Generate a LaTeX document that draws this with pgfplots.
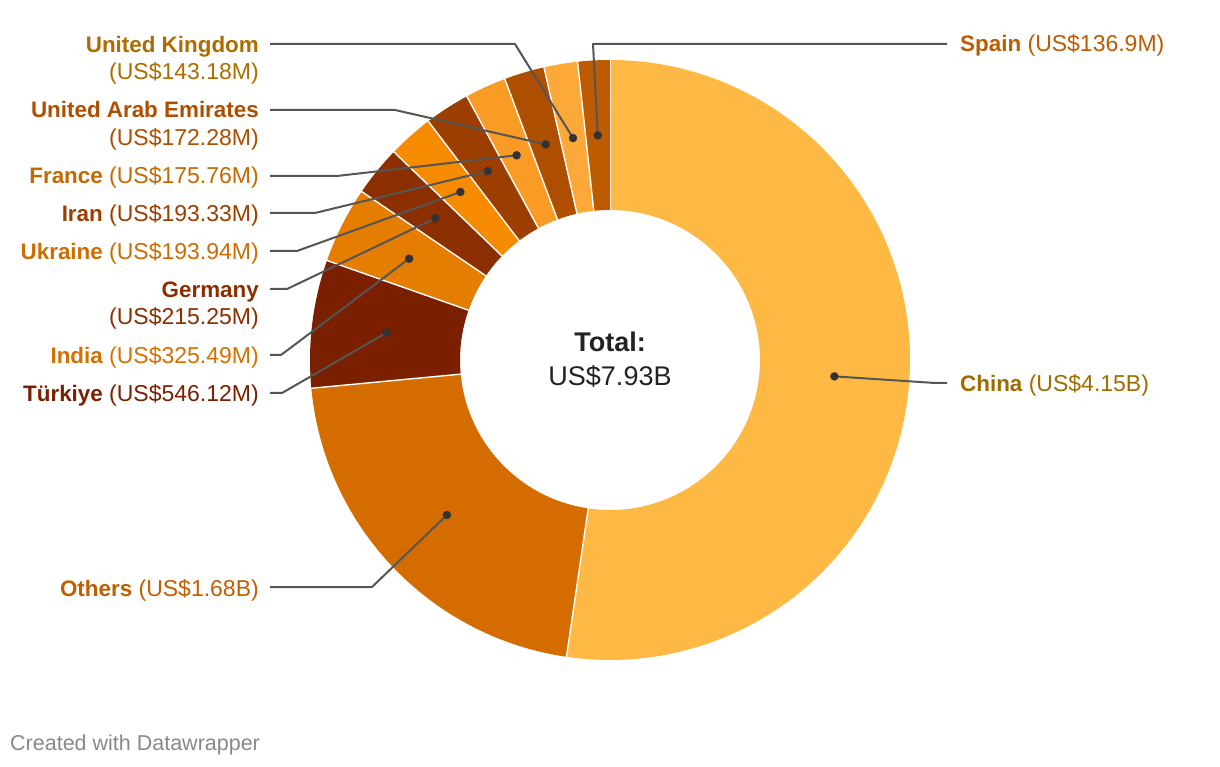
\documentclass[border=0pt]{standalone}
\usepackage{pgfplots}
\pgfplotsset{compat=1.18}
\usepackage{pgfplotstable}
\usepackage{fontspec}
\setmainfont{Liberation Sans}
\newcommand\B[1]{{\fontsize{22.4}{28}\selectfont\bfseries #1}}

\definecolor{c0}{HTML}{FDB944}
\definecolor{c1}{HTML}{D56C00}
\definecolor{c2}{HTML}{7A1F00}
\definecolor{c3}{HTML}{E57D00}
\definecolor{c4}{HTML}{8B2F00}
\definecolor{c5}{HTML}{F68B00}
\definecolor{c6}{HTML}{9B3E00}
\definecolor{c7}{HTML}{F99B25}
\definecolor{c8}{HTML}{AE4F00}
\definecolor{c9}{HTML}{FDA93A}
\definecolor{c10}{HTML}{BD5B00}

\definecolor{l0}{HTML}{A06C00}
\definecolor{l1}{HTML}{C25E00}
\definecolor{l2}{HTML}{7A1F00}
\definecolor{l3}{HTML}{D47000}
\definecolor{l4}{HTML}{8B2F00}
\definecolor{l5}{HTML}{CF6C00}
\definecolor{l6}{HTML}{9B3E00}
\definecolor{l7}{HTML}{C46800}
\definecolor{l8}{HTML}{AE4F00}
\definecolor{l9}{HTML}{AC6C00}
\definecolor{l10}{HTML}{BD5B00}
\definecolor{leader}{HTML}{555555}
\definecolor{dotc}{HTML}{333333}

% values in US$ millions, clockwise from 12 o'clock
\pgfplotstableread{
name value
China 4150
Others 1680
Turkiye 546.12
India 325.49
Germany 215.25
Ukraine 193.94
Iran 193.33
France 175.76
UAE 172.28
UK 143.18
Spain 136.9
}\datatable
\pgfplotstablecreatecol[create col/expr accum={\pgfmathaccuma+\thisrow{value}}{0}]{cum}\datatable

\begin{document}%
\begin{tikzpicture}[lab/.style={font=\fontsize{23}{28}\selectfont, inner sep=0pt}]
\pgfplotstablegetelem{10}{cum}\of\datatable%
\edef\total{\pgfplotsretval}%
\foreach \i in {0,...,10}{%
  \pgfplotstablegetelem{\i}{cum}\of\datatable \let\cumv\pgfplotsretval%
  \pgfplotstablegetelem{\i}{value}\of\datatable \let\valv\pgfplotsretval%
  \pgfmathsetmacro\angA{(\cumv-\valv)/\total*360}%
  \pgfmathsetmacro\angB{\cumv/\total*360}%
  \pgfmathsetmacro\angM{(\angA+\angB)/2}%
  \pgfmathsetmacro\ddx{610+225*sin(\angM)}%
  \pgfmathsetmacro\ddy{406+225*cos(\angM)}%
  \expandafter\xdef\csname sa\i\endcsname{\angA}%
  \expandafter\xdef\csname sb\i\endcsname{\angB}%
  \expandafter\xdef\csname dx\i\endcsname{\ddx}%
  \expandafter\xdef\csname dy\i\endcsname{\ddy}%
}%
\begin{axis}[scale only axis, width=1220pt, height=766pt,
  xmin=0, xmax=1220, ymin=0, ymax=766, hide axis, clip=false]
\path (axis cs:0,0) rectangle (axis cs:1220,766);
% slices
\pgfplotsinvokeforeach{0,...,10}{
  \fill[c#1] (axis cs:{610+300*sin(\csname sa#1\endcsname)},{406+300*cos(\csname sa#1\endcsname)})
    arc[start angle={90-\csname sa#1\endcsname}, end angle={90-\csname sb#1\endcsname}, radius=300pt]
    -- (axis cs:{610+150*sin(\csname sb#1\endcsname)},{406+150*cos(\csname sb#1\endcsname)})
    arc[start angle={90-\csname sb#1\endcsname}, end angle={90-\csname sa#1\endcsname}, radius=150pt]
    -- cycle;
  \draw[white, line width=1.4pt] (axis cs:{610+148*sin(\csname sa#1\endcsname)},{406+148*cos(\csname sa#1\endcsname)})
    -- (axis cs:{610+302*sin(\csname sa#1\endcsname)},{406+302*cos(\csname sa#1\endcsname)});
}
% leader lines
\begin{scope}[leader, line width=2pt, line join=round]
\draw (axis cs:\csname dx0\endcsname,\csname dy0\endcsname) -- (axis cs:935,383) -- (axis cs:947,383);
\draw (axis cs:\csname dx1\endcsname,\csname dy1\endcsname) -- (axis cs:372,179) -- (axis cs:270,179);
\draw (axis cs:\csname dx2\endcsname,\csname dy2\endcsname) -- (axis cs:282,373) -- (axis cs:270,373);
\draw (axis cs:\csname dx3\endcsname,\csname dy3\endcsname) -- (axis cs:281,411) -- (axis cs:270,411);
\draw (axis cs:\csname dx4\endcsname,\csname dy4\endcsname) -- (axis cs:287,477) -- (axis cs:270,477);
\draw (axis cs:\csname dx5\endcsname,\csname dy5\endcsname) -- (axis cs:297,515) -- (axis cs:270,515);
\draw (axis cs:\csname dx6\endcsname,\csname dy6\endcsname) -- (axis cs:315,553) -- (axis cs:270,553);
\draw (axis cs:\csname dx7\endcsname,\csname dy7\endcsname) -- (axis cs:337,590) -- (axis cs:270,590);
\draw (axis cs:\csname dx8\endcsname,\csname dy8\endcsname) -- (axis cs:395,656) -- (axis cs:270,656);
\draw (axis cs:\csname dx9\endcsname,\csname dy9\endcsname) -- (axis cs:515,722) -- (axis cs:270,722);
\draw (axis cs:\csname dx10\endcsname,\csname dy10\endcsname) -- (axis cs:593,722) -- (axis cs:947,722);
\end{scope}
% dots
\addplot[only marks, mark=*, mark size=4pt, color=dotc]
  table[x expr={610+225*sin((\thisrow{cum}-0.5*\thisrow{value})/\total*360)},
        y expr={406+225*cos((\thisrow{cum}-0.5*\thisrow{value})/\total*360)}] \datatable;
% labels left
\node[lab, anchor=base east, text=l9] at (axis cs:259,713.8) {\B{United Kingdom}};
\node[lab, anchor=base east, text=l9] at (axis cs:259,686.1) {(US\$143.18M)};
\node[lab, anchor=base east, text=l8] at (axis cs:259,648.5) {\B{United Arab Emirates}};
\node[lab, anchor=base east, text=l8] at (axis cs:259,620.5) {(US\$172.28M)};
\node[lab, anchor=base east, text=l7] at (axis cs:259,582.8) {\B{France} (US\$175.76M)};
\node[lab, anchor=base east, text=l6] at (axis cs:259,544.3) {\B{Iran} (US\$193.33M)};
\node[lab, anchor=base east, text=l5] at (axis cs:259,506.8) {\B{Ukraine} (US\$193.94M)};
\node[lab, anchor=base east, text=l4] at (axis cs:259,468.5) {\B{Germany}};
\node[lab, anchor=base east, text=l4] at (axis cs:259,441.1) {(US\$215.25M)};
\node[lab, anchor=base east, text=l3] at (axis cs:259,402.1) {\B{India} (US\$325.49M)};
\node[lab, anchor=base east, text=l2] at (axis cs:259,364.5) {\B{Türkiye} (US\$546.12M)};
\node[lab, anchor=base east, text=l1] at (axis cs:259,169.8) {\B{Others} (US\$1.68B)};
% labels right
\node[lab, anchor=base west, text=l0] at (axis cs:960,374.5) {\B{China} (US\$4.15B)};
\node[lab, anchor=base west, text=l10] at (axis cs:960,714.3) {\B{Spain} (US\$136.9M)};
% centre
\node[inner sep=0pt, anchor=base, font=\fontsize{27}{32}\selectfont\bfseries, text={rgb,255:red,34;green,34;blue,34}] at (axis cs:610,414.3) {Total:};
\node[inner sep=0pt, anchor=base, font=\fontsize{27}{32}\selectfont, text={rgb,255:red,34;green,34;blue,34}] at (axis cs:610,380) {US\$7.93B};
% footer
\node[inner sep=0pt, anchor=base west, font=\fontsize{21.5}{26}\selectfont, text={rgb,255:red,136;green,136;blue,136}] at (axis cs:10,15.5) {Created with Datawrapper};
\end{axis}
\end{tikzpicture}%
\end{document}
